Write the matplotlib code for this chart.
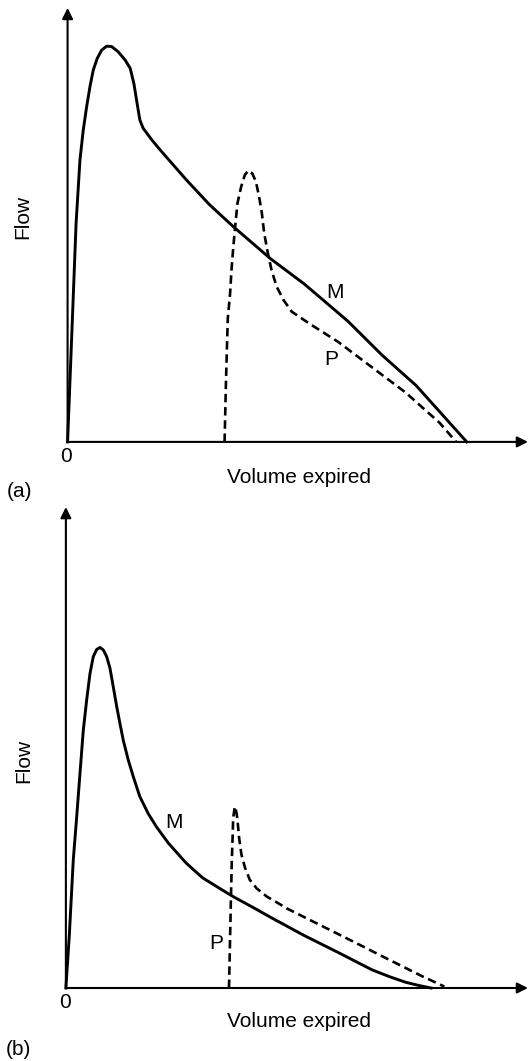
import matplotlib
matplotlib.use('Agg')
from matplotlib import pyplot as plt

plt.rcParams['font.family'] = ['Liberation Sans', 'DejaVu Sans']

# panel (a): maximal (M) and partial (P) curves, volume / flow in % of axis length
a_m_volume = [0, 0.74, 1.85, 2.69, 3.41, 4.15, 4.87, 5.58, 6.45, 7.41, 8.49, 9.58, 11.0, 12.5,
              13.6, 14.4, 15.1, 15.7, 16.4, 18.3, 20.1, 25.7, 30.8, 36.0, 44.1, 51.4, 56.6,
              60.9, 68.3, 75.7, 86.7]
a_m_flow = [0, 20.0, 50.4, 65.0, 71.9, 77.3, 81.9, 85.7, 88.4, 90.3, 91.2, 91.1, 89.9, 88.0,
            86.1, 82.6, 78.0, 74.2, 72.3, 69.6, 67.3, 60.5, 54.7, 49.6, 42.2, 36.4, 31.7,
            27.8, 20.0, 13.0, 0]
a_p_volume = [34.1, 34.4, 34.8, 35.3, 35.6, 36.0, 36.4, 36.9, 37.7, 38.5, 39.2, 40.1, 40.9,
              41.6, 42.2, 42.7, 43.5, 44.3, 45.4, 46.9, 48.7, 52.9, 58.7, 64.6, 73.4, 80.8, 84.4]
a_p_flow = [0, 13.8, 28.5, 34.2, 39.6, 45.0, 49.6, 55.0, 58.8, 61.5, 62.5, 61.9, 60.0,
            56.5, 52.7, 48.1, 43.5, 39.6, 35.8, 32.7, 30.0, 27.0, 23.1, 18.4, 11.4, 4.4, 0]

# panel (b)
b_m_volume = [0, 0.74, 1.60, 2.34, 3.05, 3.77, 4.50, 5.22, 5.93, 6.67, 7.38, 8.09, 8.83, 9.54,
              10.26, 11.0, 11.7, 12.4, 13.5, 14.6, 16.0, 17.8, 19.6, 22.2, 26.0, 29.6, 33.3,
              36.2, 40.6, 44.3, 51.6, 58.9, 66.2, 69.9, 73.5, 76.5, 79.0]
b_m_flow = [0, 10.9, 26.6, 35.6, 44.6, 53.6, 59.9, 65.4, 68.9, 70.4, 70.8, 70.3, 68.9, 66.5,
            62.6, 58.5, 55.0, 51.6, 47.4, 43.9, 39.8, 36.3, 33.5, 30.1, 26.0, 22.9, 20.7,
            19.0, 16.7, 14.7, 10.9, 7.4, 3.8, 2.4, 1.2, 0.5, 0]
b_p_volume = [35.3, 35.7, 35.9, 36.1, 36.2, 36.5, 36.7, 37.1, 37.5, 38.0, 38.8, 39.8, 41.3,
              43.5, 46.0, 47.9, 55.2, 62.5, 69.9, 77.2, 81.9]
b_p_flow = [0, 17.9, 26.3, 31.8, 35.3, 37.4, 37.7, 35.3, 31.1, 27.7, 24.9, 22.5, 20.7,
            19.0, 17.6, 16.5, 13.0, 9.5, 5.9, 2.4, 0.3]

FS = 15


def draw_panel(ax, m_vol, m_flow, p_vol, p_flow, m_pos, p_pos):
    ax.set_xlim(0, 100)
    ax.set_ylim(0, 100)
    ax.axis('off')

    # axes with arrow heads
    for tip in [(1, 0), (0, 1)]:
        ax.annotate('', xy=tip, xytext=(0, 0), xycoords='axes fraction',
                    arrowprops=dict(arrowstyle='-|>', color='black', lw=1.5,
                                    mutation_scale=16, shrinkA=0, shrinkB=0))

    ax.plot(m_vol, m_flow, color='black', lw=2.1, solid_joinstyle='round', clip_on=False)
    ax.plot(p_vol, p_flow, color='black', lw=1.9, linestyle=(0, (3.2, 1.8)), clip_on=False)

    ax.text(m_pos[0], m_pos[1], 'M', fontsize=FS, ha='center', va='center')
    ax.text(p_pos[0], p_pos[1], 'P', fontsize=FS, ha='center', va='center')


fig = plt.figure(figsize=(5.3, 10.61), dpi=100)

ax_a = fig.add_axes([0.1275, 0.5835, 0.8687, 0.4090])
draw_panel(ax_a, a_m_volume, a_m_flow, a_p_volume, a_p_flow, (58.0, 34.4), (57.3, 19.1))

ax_b = fig.add_axes([0.1243, 0.0688, 0.8719, 0.4533])
draw_panel(ax_b, b_m_volume, b_m_flow, b_p_volume, b_p_flow, (23.4, 34.4), (32.6, 9.3))

# labels outside the axes
fig.text(0.042, 0.7955, 'Flow', rotation=90, fontsize=FS, ha='center', va='center')
fig.text(0.1245, 0.5693, '0', fontsize=FS, ha='center', va='center')
fig.text(0.5645, 0.5504, 'Volume expired', fontsize=FS, ha='center', va='center')
fig.text(0.036, 0.5363, '(a)', fontsize=FS, ha='center', va='center')

fig.text(0.044, 0.2828, 'Flow', rotation=90, fontsize=FS, ha='center', va='center')
fig.text(0.1217, 0.0547, '0', fontsize=FS, ha='center', va='center')
fig.text(0.5645, 0.0377, 'Volume expired', fontsize=FS, ha='center', va='center')
fig.text(0.034, 0.0104, '(b)', fontsize=FS, ha='center', va='center')

plt.savefig('out.png', dpi=100)
